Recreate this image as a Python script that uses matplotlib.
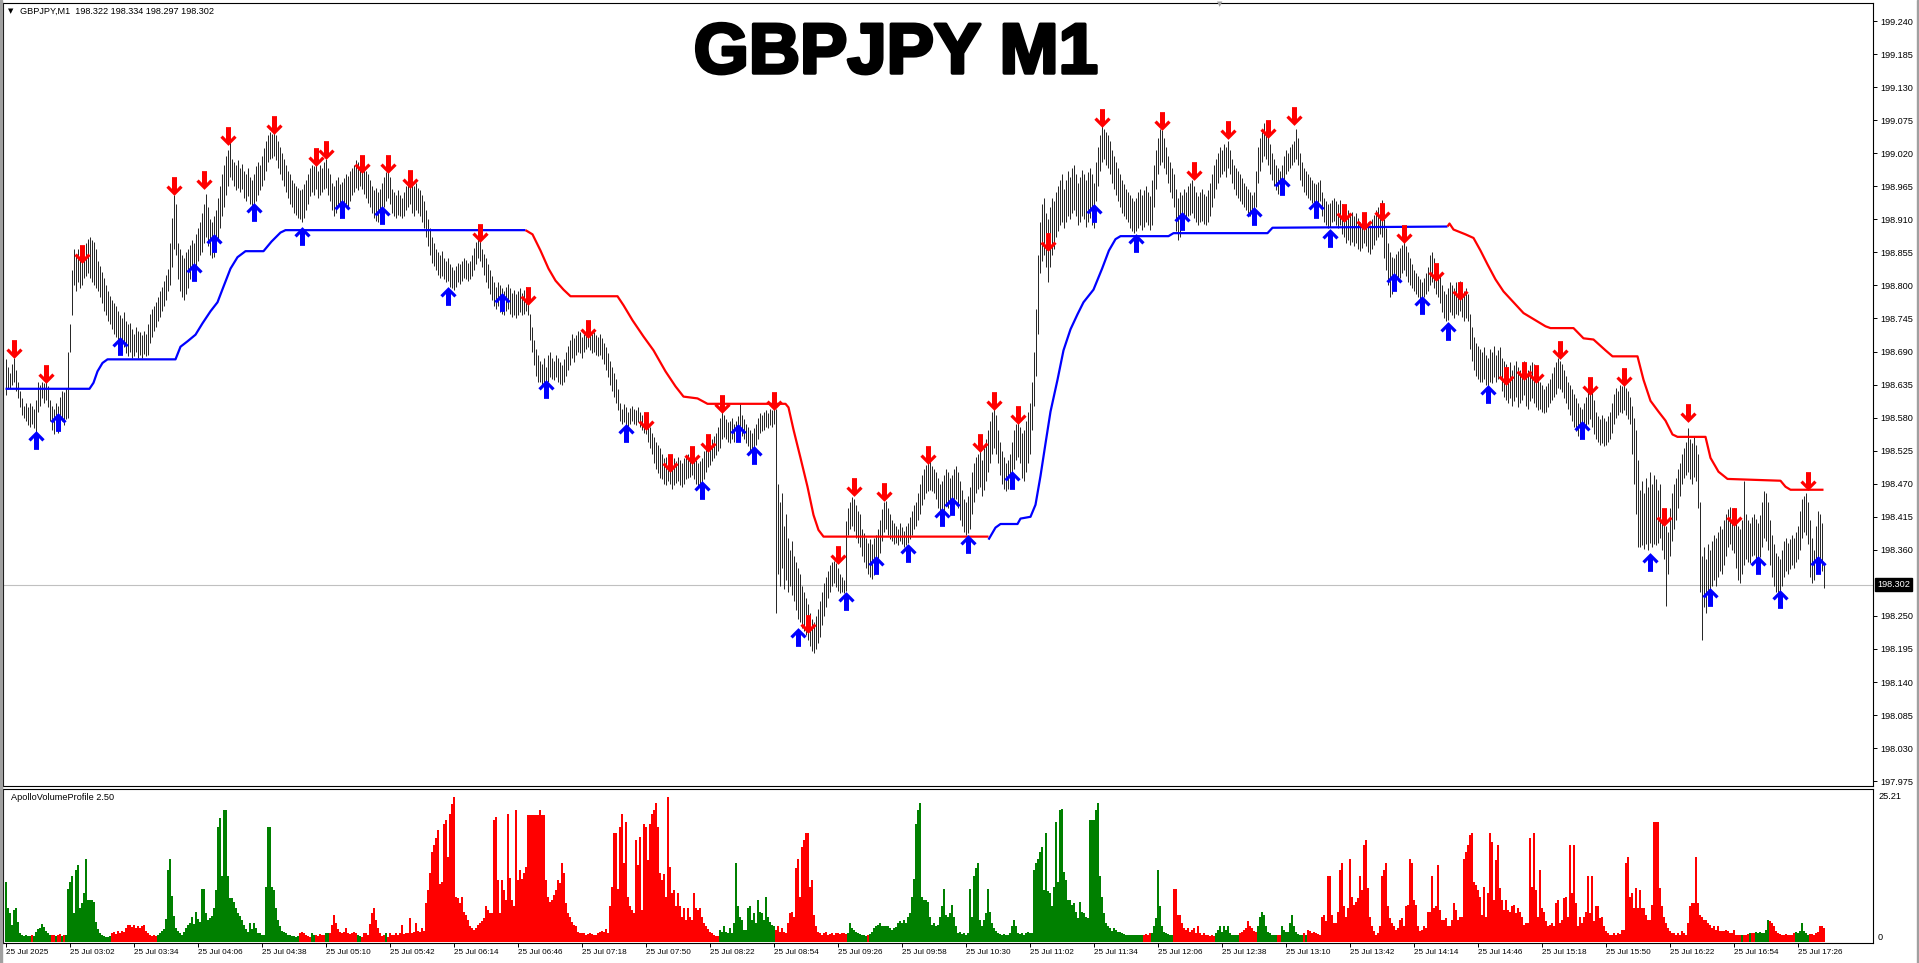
import numpy as np
import matplotlib
matplotlib.use('Agg')
import matplotlib.pyplot as plt
import matplotlib.patheffects as pe
from matplotlib.path import Path
from matplotlib.patches import Rectangle
from matplotlib import font_manager
from matplotlib.transforms import blended_transform_factory, ScaledTranslation

# ---- picture size (pixels) ----
W, H, DPI = 1919, 963, 100

# ---- price bars: high / low in thousandths above 198.000 (one per M1 bar) ----
HIGH = [
    678, 665, 655, 670, 680, 660, 640, 625, 612, 600,
    605, 598, 605, 600, 595, 610, 640, 635, 640, 638,
    645, 632, 610, 600, 595, 605, 600, 615, 625, 622,
    630, 690, 735, 825, 860, 850, 860, 845, 848, 858,
    870, 878, 880, 875, 872, 860, 840, 832, 822, 812,
    800, 790, 782, 775, 770, 765, 758, 750, 745, 755,
    740, 735, 738, 728, 720, 730, 725, 722, 718, 725,
    720, 735, 752, 760, 765, 772, 780, 790, 798, 808,
    818, 828, 870, 912, 950, 935, 870, 860, 850, 845,
    855, 860, 868, 875, 870, 885, 895, 905, 920, 935,
    952, 930, 910, 905, 915, 925, 945, 965, 985, 1000,
    1015, 1025, 1038, 1010, 1005, 1000, 1008, 995, 1002, 990,
    985, 995, 980, 975, 985, 998, 1005, 1000, 1015, 1028,
    1040, 1050, 1055, 1052, 1056, 1050, 1040, 1030, 1020, 1010,
    1000, 990, 985, 975, 970, 965, 962, 958, 960, 968,
    975, 985, 995, 1000, 998, 1005, 990, 1000, 995, 1005,
    1010, 995, 985, 970, 965, 975, 980, 968, 972, 978,
    985, 982, 990, 995, 1000, 1008, 1005, 1012, 1002, 995,
    990, 985, 975, 965, 958, 962, 955, 960, 970, 980,
    988, 992, 980, 960, 955, 950, 958, 950, 945, 955,
    965, 975, 982, 978, 965, 970, 962, 958, 950, 940,
    925, 910, 895, 880, 870, 860, 855, 850, 858, 845,
    840, 845, 835, 830, 825, 832, 838, 835, 840, 845,
    842, 838, 840, 850, 862, 872, 885, 880, 860, 852,
    845, 835, 825, 815, 805, 798, 805, 800, 795, 790,
    798, 802, 795, 788, 792, 785, 790, 795, 788, 792,
    798, 790, 752, 730, 710, 695, 685, 675, 670, 680,
    665, 685, 690, 680, 675, 685, 680, 672, 668, 678,
    690, 700, 710, 720, 712, 718, 725, 722, 715, 720,
    728, 730, 725, 720, 722, 718, 715, 720, 712, 705,
    698, 688, 675, 665, 655, 645, 628, 605, 595, 602,
    598, 590, 596, 600, 594, 592, 598, 590, 585, 580,
    582, 575, 565, 555, 548, 540, 535, 530, 520, 512,
    515, 518, 510, 505, 512, 508, 515, 510, 505, 512,
    518, 520, 522, 525, 518, 510, 505, 508, 512, 525,
    532, 538, 540, 545, 550, 555, 565, 580, 590, 585,
    578, 572, 575, 580, 570, 575, 582, 605, 585, 578,
    570, 565, 560, 555, 562, 570, 580, 588, 585, 590,
    592, 588, 595, 592, 598, 595, 470, 440, 455, 400,
    420, 380, 360, 375, 350, 340, 330, 320, 300, 290,
    280, 270, 255, 245, 240, 250, 262, 275, 290, 305,
    315, 325, 335, 340, 342, 338, 330, 320, 315, 310,
    408, 430, 440, 448, 445, 435, 425, 420, 395, 388,
    380, 372, 378, 370, 380, 385, 395, 410, 428, 440,
    442, 430, 420, 410, 405, 400, 395, 405, 398, 392,
    400, 405, 415, 425, 435, 440, 455, 470, 485, 495,
    502, 505, 508, 500, 495, 490, 480, 470, 475, 485,
    495, 490, 480, 485, 495, 500, 490, 475, 460, 445,
    440, 450, 465, 490, 505, 515, 520, 525, 510, 530,
    545, 560, 575, 590, 595, 585, 560, 540, 525, 515,
    505, 510, 520, 540, 560, 570, 575, 565, 555, 560,
    575, 590, 605, 640, 690, 760, 850, 905, 935, 945,
    920, 910, 930, 945, 940, 955, 965, 975, 985, 960,
    975, 990, 980, 995, 1000, 985, 970, 980, 992, 985,
    975, 988, 995, 985, 970, 1005, 1030, 1050, 1065, 1060,
    1055, 1050, 1040, 1025, 1015, 1005, 995, 985, 975, 968,
    960, 955, 950, 945, 940, 945, 955, 960, 950, 958,
    965, 955, 948, 975, 1000, 1025, 1045, 1060, 1058, 1045,
    1030, 1015, 1005, 995, 985, 960, 945, 955, 950, 960,
    955, 965, 970, 975, 965, 955, 948, 955, 960, 952,
    948, 958, 970, 985, 1000, 1010, 1020, 1030, 1025, 1035,
    1030, 1040, 1025, 1010, 1000, 995, 990, 985, 978, 970,
    965, 960, 955, 950, 955, 990, 1030, 1045, 1055, 1070,
    1060, 1050, 1035, 1020, 1010, 1000, 995, 990, 1000, 1015,
    1025, 1020, 1030, 1035, 1040, 1060, 1045, 1020, 1005, 995,
    990, 985, 980, 975, 970, 968, 972, 975, 955, 945,
    940, 935, 938, 942, 945, 940, 935, 942, 935, 930,
    920, 925, 918, 922, 915, 920, 912, 905, 915, 920,
    912, 905, 900, 910, 918, 925, 930, 938, 942, 910,
    895, 870, 855, 848, 845, 852, 858, 862, 868, 872,
    865, 855, 845, 835, 825, 820, 815, 810, 805, 812,
    820, 830, 850, 855, 845, 835, 825, 815, 800, 790,
    785, 795, 805, 800, 795, 805, 800, 808, 798, 790,
    795, 785, 752, 730, 715, 705, 700, 695, 690, 698,
    685, 680, 695, 690, 700, 685, 692, 698, 680, 675,
    670, 665, 672, 660, 668, 675, 665, 660, 670, 675,
    665, 660, 668, 672, 670, 662, 655, 640, 635, 628,
    632, 638, 645, 655, 665, 672, 680, 675, 670, 660,
    650, 640, 635, 628, 620, 612, 605, 598, 595, 605,
    615, 625, 635, 628, 610, 590, 582, 578, 585, 580,
    575, 582, 590, 605, 620, 630, 625, 635, 632, 638,
    630, 625, 615, 600, 580, 560, 510, 460, 475, 455,
    480, 465, 490, 470, 485, 478, 460, 470, 420, 405,
    400, 390, 430, 455, 470, 480, 495, 505, 520, 530,
    540, 562, 545, 538, 548, 535, 520, 440, 350, 365,
    345, 370, 360, 375, 385, 380, 390, 400, 395, 410,
    420, 428, 432, 425, 430, 415, 400, 395, 410, 475,
    420, 410, 405, 415, 420, 412, 405, 418, 440, 458,
    455, 440, 410, 385, 370, 355, 350, 345, 360, 375,
    380, 372, 378, 385, 380, 390, 400, 425, 445, 450,
    455, 440, 410, 380, 360, 400, 425, 420, 405, 334,
]
LOW = [
    618, 628, 630, 635, 640, 625, 612, 598, 585, 580,
    575, 568, 565, 570, 562, 556, 590, 600, 612, 605,
    610, 598, 575, 560, 552, 565, 555, 570, 575, 568,
    578, 580, 690, 750, 800, 790, 805, 795, 800, 812,
    815, 820, 812, 806, 800, 795, 790, 780, 770, 758,
    750, 740, 735, 728, 720, 715, 705, 700, 692, 698,
    688, 682, 690, 680, 682, 690, 680, 684, 680, 686,
    682, 685, 705, 715, 725, 730, 740, 748, 758, 765,
    775, 790, 800, 830, 860, 850, 810, 790, 780, 775,
    785, 795, 810, 815, 812, 830, 840, 850, 855, 870,
    880, 865, 850, 845, 848, 860, 875, 895, 915, 930,
    950, 965, 980, 975, 965, 958, 962, 955, 960, 945,
    940, 948, 935, 930, 928, 940, 950, 958, 965, 975,
    990, 1005, 1010, 1012, 1015, 1008, 995, 985, 975, 965,
    955, 945, 935, 930, 920, 918, 912, 910, 905, 912,
    925, 935, 948, 955, 950, 960, 945, 950, 955, 960,
    962, 950, 940, 925, 915, 920, 930, 912, 918, 925,
    935, 930, 940, 950, 955, 962, 958, 965, 960, 952,
    945, 938, 930, 920, 912, 908, 905, 908, 920, 930,
    940, 945, 935, 920, 915, 912, 918, 915, 912, 915,
    925, 930, 935, 920, 915, 925, 920, 915, 905, 895,
    880, 865, 850, 838, 832, 825, 818, 812, 815, 810,
    805, 808, 798, 795, 792, 798, 805, 802, 808, 812,
    810, 808, 810, 815, 825, 835, 845, 840, 830, 818,
    805, 795, 785, 775, 765, 760, 765, 755, 752, 750,
    758, 760, 752, 748, 750, 745, 750, 755, 750, 752,
    758, 750, 710, 690, 668, 650, 640, 640, 635, 638,
    630, 640, 648, 645, 642, 648, 640, 636, 635, 640,
    650, 660, 668, 680, 672, 685, 690, 688, 680, 690,
    695, 698, 692, 688, 690, 685, 682, 685, 678, 670,
    660, 648, 635, 625, 615, 605, 592, 575, 570, 572,
    568, 565, 570, 575, 570, 568, 572, 565, 560, 555,
    552, 540, 530, 520, 505, 495, 488, 480, 478, 470,
    468, 475, 470, 462, 468, 472, 475, 468, 465, 470,
    478, 480, 482, 485, 478, 470, 465, 462, 465, 478,
    490, 498, 502, 508, 512, 518, 525, 530, 545, 548,
    545, 540, 538, 545, 540, 542, 548, 555, 550, 545,
    538, 532, 525, 520, 522, 535, 545, 555, 558, 560,
    565, 562, 568, 565, 570, 255, 320, 300, 330, 295,
    310, 290, 300, 285, 275, 260, 245, 240, 230, 225,
    218, 210, 200, 192, 188, 195, 205, 215, 235, 250,
    265, 280, 290, 300, 305, 298, 292, 288, 290, 288,
    292, 385, 395, 400, 392, 380, 372, 365, 350, 340,
    330, 320, 315, 312, 318, 322, 335, 355, 375, 390,
    395, 385, 378, 375, 370, 372, 368, 375, 370, 365,
    368, 372, 378, 385, 395, 400, 410, 420, 435, 445,
    455, 458, 460, 458, 455, 445, 430, 420, 415, 425,
    435, 430, 425, 428, 440, 445, 430, 410, 400, 390,
    385, 388, 395, 420, 440, 455, 462, 465, 450, 460,
    475, 490, 505, 520, 530, 520, 505, 485, 470, 462,
    458, 462, 465, 475, 495, 510, 515, 505, 480, 475,
    490, 505, 520, 560, 600, 650, 720, 820, 840, 850,
    830, 805, 830, 850, 860, 880, 890, 900, 905, 895,
    905, 915, 910, 920, 925, 915, 900, 905, 915, 910,
    898, 905, 912, 900, 895, 940, 965, 990, 1005, 1010,
    1000, 995, 985, 970, 960, 950, 940, 930, 920, 915,
    910, 905, 895, 890, 888, 890, 895, 900, 892, 898,
    905, 900, 892, 900, 930, 960, 985, 1000, 1005, 995,
    985, 970, 955, 945, 930, 890, 875, 880, 895, 905,
    910, 915, 918, 920, 912, 905, 900, 905, 908, 902,
    900, 905, 915, 930, 945, 960, 970, 980, 985, 990,
    980, 995, 985, 970, 960, 950, 945, 940, 935, 930,
    925, 920, 915, 912, 910, 930, 970, 990, 1005, 1015,
    1010, 1000, 985, 975, 965, 958, 952, 955, 960, 975,
    985, 990, 995, 1000, 1005, 1010, 1000, 975, 965, 955,
    950, 945, 942, 938, 935, 932, 938, 940, 915, 905,
    900, 895, 898, 905, 908, 900, 895, 900, 885, 880,
    870, 875, 868, 872, 865, 870, 860, 858, 862, 870,
    865, 855, 852, 860, 868, 875, 880, 885, 880, 845,
    825, 800, 780, 785, 792, 800, 808, 812, 820, 825,
    815, 805, 800, 795, 790, 785, 780, 778, 775, 780,
    785, 790, 800, 805, 795, 785, 780, 770, 755, 745,
    740, 742, 755, 750, 745, 752, 750, 758, 748, 740,
    745, 740, 695, 675, 660, 650, 645, 640, 640, 645,
    635, 632, 640, 638, 648, 640, 645, 650, 625, 615,
    610, 605, 612, 600, 608, 615, 598, 605, 610, 618,
    600, 595, 608, 612, 605, 598, 592, 595, 590, 588,
    590, 598, 605, 610, 615, 620, 630, 628, 622, 612,
    605, 595, 585, 575, 565, 558, 550, 545, 548, 555,
    565, 570, 578, 565, 552, 545, 540, 535, 538, 532,
    535, 540, 545, 555, 570, 580, 585, 590, 588, 592,
    585, 578, 570, 520, 470, 420, 365, 365, 368, 362,
    370, 360, 372, 365, 370, 368, 372, 380, 360, 345,
    267, 320, 350, 375, 395, 410, 430, 450, 470, 480,
    485, 490, 478, 470, 482, 475, 430, 290, 210, 265,
    255, 280, 290, 300, 310, 300, 315, 325, 320, 335,
    350, 365, 370, 360, 355, 330, 310, 305, 320, 335,
    345, 340, 338, 350, 352, 345, 335, 348, 365, 380,
    375, 360, 335, 315, 300, 290, 285, 290, 300, 315,
    325, 320, 328, 335, 330, 340, 345, 360, 380, 390,
    385, 370, 315, 305, 310, 325, 345, 340, 325, 297,
]
LAST_PRICE = 198.302
HEADER_OHLC = ["198.322", "198.334", "198.297", "198.302"]

# ---- trailing stop line knots: (bar index, thousandths above 198.000) ----
TRAIL_BLUE_1 = [(0, 628), (42, 628), (44, 638), (46, 657), (48.5, 671), (51, 677), (85, 677),
                (87.5, 698), (91, 707), (95, 718), (98.5, 737), (102.5, 757), (106, 772),
                (109, 798), (112.5, 828), (116, 847), (120, 857), (129, 857), (133, 873),
                (137.5, 888), (140, 892), (260, 892)]
TRAIL_RED_1 = [(260, 892), (263.5, 885), (267.5, 858), (271.5, 828), (275, 808), (279, 793),
               (282.5, 782), (306, 782), (309, 767), (313.5, 742), (319, 715), (324, 692),
               (330, 657), (335, 632), (339, 615), (346, 612), (351, 603), (390, 603),
               (391.5, 597), (394, 560), (397.5, 513), (401, 465), (404, 418), (406.5, 393),
               (409, 382), (491.5, 382)]
TRAIL_BLUE_2 = [(491.5, 377), (495, 397), (497.5, 403), (506, 403), (507.5, 412), (512.5, 415),
                (515, 435), (517.5, 483), (520, 537), (522.5, 590), (526, 643), (529, 692),
                (532.5, 727), (536, 752), (539, 772), (544, 793), (548.3, 828), (551.7, 858),
                (555, 877), (557.5, 882), (581.5, 882), (584, 887), (631, 887), (633.5, 896),
                (721, 898)]
TRAIL_RED_2 = [(721, 898), (722, 903), (724, 893), (730, 885), (734, 879), (737.5, 858),
               (741, 835), (745, 810), (749, 790), (754, 772), (759, 754), (765, 742),
               (770, 732), (772.5, 729), (784, 729), (789, 712), (794, 710), (800, 692),
               (803.5, 682), (816, 682), (819, 643), (822.5, 608), (826.5, 590), (830, 575),
               (833.5, 552), (836, 548), (850, 548), (852.5, 513), (856.5, 490), (861, 478),
               (887.5, 475), (890, 465), (892.5, 460), (909, 460)]

# ---- signal arrows (bar index, centre level in thousandths above 198.000) ----
DOWN_IDX = [4, 20, 38, 84, 99, 111, 134, 155, 160, 178, 191, 202, 237, 261, 291, 320, 332, 343,
            351, 358, 384, 401, 416, 424, 439, 461, 487, 494, 506, 521, 548, 578, 594, 611, 631,
            644, 669, 679, 688, 699, 715, 727, 750, 759, 765, 777, 792, 809, 829, 841, 864, 901]
DOWN_VAL = [695, 653, 852, 965, 975, 1048, 1067, 1013, 1025, 1002, 1002, 977, 888, 782, 727, 575,
            505, 517, 538, 602, 608, 237, 352, 465, 457, 518, 537, 608, 585, 873, 1078, 1073, 990,
            1058, 1060, 1082, 921, 908, 923, 885, 823, 790, 650, 657, 653, 692, 632, 647, 415,
            588, 415, 475]
UP_IDX = [15, 26, 57, 94, 104, 124, 148, 168, 188, 221, 248, 270, 310, 348, 366, 374, 396, 420,
          435, 451, 468, 473, 481, 503, 544, 565, 588, 624, 638, 655, 662, 694, 708, 721, 741,
          788, 822, 852, 876, 887, 906]
UP_VAL = [543, 573, 700, 822, 870, 923, 882, 927, 917, 783, 772, 627, 555, 460, 555, 518, 215,
          275, 335, 355, 415, 433, 370, 477, 921, 870, 908, 915, 965, 927, 879, 805, 768, 725,
          620, 560, 340, 282, 335, 278, 335]

# ---- volume histogram ----
VOLUME = [
    10.5, 6, 5, 3, 5.5, 6, 3.5, 1.5,
    1.2, 1.0, 1.3, 1.0, 1.1, 1.2, 1.0, 1.8, 2.2, 2.5, 3.2, 2.6, 2.0, 1.5, 1.2,
    1.2, 1.3, 1.0, 1.2, 1.4, 1.1, 1.3, 1.2,
    9.3, 10.5, 11.4, 5.0, 12.5, 13.4, 6.0, 6.7, 8.5, 14.5, 7.3, 7.3, 7.3, 7.0, 3.5,
    2.2, 1.5, 1.2, 1.0, 0.9, 0.8, 1.0,
    1.5, 1.8, 1.4, 1.9, 1.6, 2.0, 1.7, 2.4, 2.9, 3.0, 2.6, 2.9, 2.5, 2.7, 2.4, 2.8, 3.0, 2.0,
    1.6, 1.2, 1.0, 1.2, 1.0,
    1.2, 1.5, 2.0, 2.3, 4.0, 12.5, 14.5, 8.0, 4.5, 2.5, 2.0, 1.5, 1.2, 1.8, 2.5,
    3.0, 3.3, 4.4, 3.2, 5.3, 4.0, 3.5, 9.3, 9.3, 5.0, 3.8, 4.2,
    4.5, 6.0, 9.0, 20.0, 21.5, 11.4, 23.0, 23.0, 11.4, 7.6, 7.6, 7.0, 6.0, 5.0,
    4.5, 3.9, 3.0, 2.2, 1.8, 3.3, 2.2, 3.3, 2.5, 1.6, 1.5, 1.3, 1.2,
    9.6, 20.0, 20.0, 9.6, 9.0, 5.9, 3.9, 2.7, 2.0,
    1.8, 1.5, 1.3, 1.2, 1.0, 1.0, 0.9, 1.0,
    1.5, 1.8, 1.5, 1.2, 1.0, 0.9, 1.5, 1.3, 1.2, 1.0, 1.4, 1.3, 1.2, 1.6, 1.5,
    1.5, 3.0, 4.7, 3.3, 2.2, 1.8, 1.6, 1.7, 2.5, 1.5, 1.4, 1.6, 1.8, 1.5, 1.2,
    1.0, 0.9, 1.5, 1.6, 1.3, 3.2, 5.0, 5.9, 3.9, 2.4, 1.5, 1.0, 1.2, 1.5, 0.8,
    1.5, 1.2, 1.3, 1.6, 1.2, 1.5, 2.9, 1.4, 1.6, 1.5, 4.1, 1.6, 1.8, 3.3, 2.0, 1.8, 2.4, 2.0,
    6.8, 9.0, 12.0, 15.7, 16.8, 18.0, 19.5, 10.0, 10.5, 20.6, 21.2, 14.8, 22.3, 24.0, 25.2,
    7.9, 7.6,
    6.8, 7.9, 5.3, 4.7, 3.9, 2.7, 2.4, 2.1, 2.4, 3.0, 3.3, 3.6, 4.2, 6.2, 5.5, 5.0,
    5.0, 21.2, 21.8, 10.8, 5.0, 10.8, 9.1, 7.3, 22.3, 11.1, 7.3, 6.2, 23.0,
    10.8, 12.5, 11.0, 12.0, 13.0, 22.0, 22.0, 22.0, 22.0, 22.0, 22.0, 23.0, 22.0, 22.0,
    10.8, 7.9, 7.0, 7.3, 8.2, 9.1, 10.8, 10.2, 13.7, 12.0, 6.8, 5.0, 4.4, 3.5, 3.0, 2.7,
    1.8, 1.6,
    1.6, 1.5, 1.3, 1.4, 1.5, 1.4, 1.3, 1.2, 1.6, 1.8, 2.0, 1.8, 2.2, 1.6,
    6.2, 9.6, 18.9, 18.9, 9.3, 20.0, 22.3, 13.7, 20.9, 7.9, 6.2, 5.6, 5.0,
    17.7, 13.4, 18.3, 5.6, 20.6, 20.0, 14.3, 20.6, 22.3, 22.9, 24.1, 20.0, 12.0,
    10.8, 11.9, 7.9, 25.2, 13.1, 8.5, 9.1, 6.2, 8.5, 6.2, 4.4, 5.9, 3.9, 5.9, 4.4, 3.9,
    8.5, 6.0, 5.5, 5.9,
    4.4, 3.3, 2.7, 2.2, 1.8, 1.6, 1.3, 1.0, 1.0,
    2.1, 1.8, 2.7, 1.7, 1.6, 2.4, 1.6, 3.3, 13.7, 6.2, 4.4, 3.9, 2.1, 2.1, 5.9, 6.2, 3.9,
    5.0, 3.3, 7.3, 5.3, 5.0, 3.9, 7.9, 4.4, 3.5, 3.0, 2.8,
    2.1, 2.7, 1.8, 2.4, 1.8, 1.6, 3.3, 5.0, 5.3, 4.4, 12.8, 14.5, 7.9, 16.6, 17.7, 18.9,
    18.9, 9.6, 10.8, 4.7, 2.7, 1.8, 1.6, 1.3, 1.6, 1.8, 1.3, 1.4, 1.6, 1.3, 1.6, 1.5, 1.4,
    1.6, 1.5, 1.4,
    1.6, 3.3, 2.4, 2.1, 1.8, 1.6, 1.4, 1.3, 1.3, 1.1, 1.2, 1.4,
    1.8, 2.4, 2.7, 3.0, 3.3, 2.7, 2.7, 2.7, 2.7, 2.4, 2.1, 2.4, 2.6, 3.3, 3.6, 3.3, 3.9,
    3.3, 4.4, 5.0, 7.9, 11.0, 20.6,
    22.9, 24.1, 7.9, 7.3, 7.3, 7.0, 4.4, 3.0, 3.3,
    2.7, 3.0, 4.4, 6.2, 9.3, 4.7, 4.4, 5.0, 6.5, 4.4, 2.7, 1.6, 1.7, 1.4, 1.6, 1.3, 1.5,
    9.3, 4.4, 11.4, 12.8, 13.7, 3.9, 2.7, 3.9, 5.0, 9.3, 5.3, 3.3, 2.4, 2.0,
    1.6, 1.4, 1.2, 1.4, 1.3, 1.2, 1.5, 2.7, 3.9, 2.7, 1.6, 1.4, 1.5, 1.3, 1.6, 1.8, 1.5, 1.6,
    12.5, 13.7, 14.5, 15.7, 16.6, 9.0, 18.9, 8.8, 8.5, 6.2, 9.6, 20.9, 10.5, 22.9, 23.2,
    12.2, 10.8, 7.3, 7.3, 6.5,
    6.8, 5.3, 4.2, 7.0, 5.3, 5.0, 4.4, 4.2, 21.2, 21.2, 21.2, 22.9, 24.1, 11.4, 7.9, 5.0,
    3.3, 2.7, 2.4, 2.0,
    2.4, 2.1, 1.8, 1.8, 1.6, 1.4, 1.3, 1.3, 1.2, 1.3, 1.2, 1.3, 1.2, 1.3, 1.2,
    1.3, 1.4, 1.3, 1.5,
    1.6, 2.7, 4.2, 12.5, 6.2, 2.7, 1.8, 1.6, 1.4, 1.3, 1.3,
    9.3, 9.3, 4.7, 4.7, 3.3, 2.4, 2.1, 2.4, 1.8, 2.1, 2.4, 1.6, 2.7, 1.6, 1.3, 1.6, 1.3,
    1.3, 1.1, 1.2, 1.1,
    1.6, 2.1, 2.7, 1.8, 2.7, 2.1, 2.7, 1.6, 1.3, 1.2, 1.3, 1.2,
    1.6, 1.8, 2.1, 2.4, 3.6, 2.7, 2.4, 2.0, 1.8,
    2.7, 4.4, 5.3, 4.7, 2.7, 1.8, 1.6, 1.3, 1.3, 1.2,
    1.3, 1.3,
    2.7, 2.1, 1.8, 1.8, 3.3, 4.7, 2.7, 1.8, 1.4, 1.3,
    1.3, 1.5, 1.3, 2.1, 1.85, 1.56, 1.7, 1.56, 1.4, 1.27,
    4.4, 4.7, 3.6, 11.4, 11.4, 4.7, 3.3, 3.3, 5.3, 12.5,
    13.7, 6.2, 4.4, 5.9, 14.5, 7.9, 6.5, 7.0, 7.6, 11.4,
    9.0, 16.8, 17.7, 9.35, 4.4, 2.7, 1.85, 1.27, 1.56, 2.7,
    11.4, 12.5, 13.7, 6.2, 4.15, 3.3, 2.7, 2.1, 2.4, 3.9,
    4.15, 2.7, 6.2, 6.5, 14.5, 13.7, 7.3, 6.5, 2.7, 1.85,
    2.1, 2.7, 2.4, 5.3, 5.3, 11.4, 5.9, 6.2, 13.4, 5.6,
    3.9, 3.9, 4.15, 2.7, 2.7, 3.9, 6.75, 5.6, 3.9, 4.4,
    4.4, 14.5, 15.7, 16.85, 18.6, 18.9, 10.5, 9.9, 9.1, 7.9,
    4.7, 9.6, 4.4, 8.5, 18.9, 17.4, 7.3, 14.25, 16.85, 9.35,
    7.3, 5.6, 7.3, 5.6, 5.3, 6.2, 6.5, 5.0, 5.9, 5.3,
    4.4, 3.0, 3.3, 3.3, 18.0, 9.6, 18.9, 9.1, 4.4, 12.5,
    5.9, 5.3, 3.6, 2.7, 3.0, 3.3, 2.7, 6.75, 7.3, 3.3,
    3.9, 7.6, 7.9, 4.4, 16.85, 8.5, 16.85, 6.75, 2.7, 4.4,
    3.3, 4.4, 5.3, 11.4, 5.0, 11.4, 3.6, 6.2, 6.2, 4.15,
    4.4, 2.7, 1.85, 1.56, 1.27, 1.27, 1.56, 1.27, 1.56, 1.4,
    2.1, 2.1, 13.7, 14.8, 7.9, 8.5, 5.9, 9.35, 5.9, 9.06,
    5.9, 5.9, 4.7, 3.9, 3.9, 6.5, 20.9, 20.9, 20.9, 9.35,
    6.2, 4.4, 3.3, 2.4, 1.85, 1.56, 1.56, 1.27, 1.56, 1.27,
    1.85, 1.56, 1.27, 3.3, 6.2, 6.75, 6.75, 14.8, 6.75, 4.7,
    4.4, 3.9, 3.9, 3.3, 3.0, 2.4, 2.7, 2.1, 2.7, 1.85,
    1.85, 1.85, 2.1, 1.85, 1.56, 1.56, 2.1, 1.27, 1.27, 1.27,
    1.27, 1.27, 1.27, 1.4, 1.56, 1.56, 1.56, 1.7, 1.56, 1.7,
    1.56, 1.56, 2.1, 3.9, 3.6, 3.3, 2.7, 1.85, 1.56, 1.4,
    1.27, 1.27, 1.4, 1.27, 1.27, 1.27, 1.56, 1.7, 1.56, 1.85,
    3.3, 1.85, 1.56, 1.27, 1.4, 1.35, 1.27, 1.56, 1.7, 2.7, 2.7, 2.5,
]
VOLUME_MAX_LABEL = "25.21"
# colour changes of the histogram: (first bar index, colour)
VOL_COLOR_RUNS = [(0, 'g'), (13, 'r'), (14, 'g'), (23, 'r'), (25, 'g'), (26, 'r'), (28, 'g'),
                  (29, 'r'), (30, 'g'), (53, 'r'), (76, 'g'), (147, 'r'), (153, 'g'), (155, 'r'),
                  (160, 'g'), (162, 'r'), (176, 'g'), (178, 'r'), (190, 'g'), (191, 'r'),
                  (357, 'g'), (385, 'r'), (421, 'g'), (431, 'r'), (432, 'g'), (569, 'r'),
                  (573, 'g'), (584, 'r'), (605, 'g'), (617, 'r'), (626, 'g'), (636, 'r'),
                  (638, 'g'), (649, 'r'), (650, 'g'), (651, 'r'), (868, 'g'), (869, 'r'),
                  (872, 'g'), (873, 'r'), (875, 'g'), (882, 'r'), (895, 'g'), (902, 'r')]

# ---- axis labels ----
PRICE_TICKS = [199.240, 199.185, 199.130, 199.075, 199.020, 198.965, 198.910, 198.855, 198.800,
               198.745, 198.690, 198.635, 198.580, 198.525, 198.470, 198.415, 198.360, 198.250,
               198.195, 198.140, 198.085, 198.030, 197.975]
TIME_TICKS = list(range(0, 897, 32))
TIME_LABELS = ["25 Jul 2025", "25 Jul 03:02", "25 Jul 03:34", "25 Jul 04:06", "25 Jul 04:38",
               "25 Jul 05:10", "25 Jul 05:42", "25 Jul 06:14", "25 Jul 06:46", "25 Jul 07:18",
               "25 Jul 07:50", "25 Jul 08:22", "25 Jul 08:54", "25 Jul 09:26", "25 Jul 09:58",
               "25 Jul 10:30", "25 Jul 11:02", "25 Jul 11:34", "25 Jul 12:06", "25 Jul 12:38",
               "25 Jul 13:10", "25 Jul 13:42", "25 Jul 14:14", "25 Jul 14:46", "25 Jul 15:18",
               "25 Jul 15:50", "25 Jul 16:22", "25 Jul 16:54", "25 Jul 17:26"]

COLORS = {'g': '#008000', 'r': '#ff0000', 'blue': '#0000ff', 'red': '#ff0000'}

# ---- fonts ----
_names = {f.name for f in font_manager.fontManager.ttflist}
plt.rcParams['font.family'] = ['Liberation Sans', 'DejaVu Sans']
if 'Liberation Sans Narrow' in _names:
    TIME_FONT, TIME_SIZE = 'Liberation Sans Narrow', 6.6
else:
    TIME_FONT, TIME_SIZE = 'Liberation Sans', 5.9
SMALL = 6.6


def lv(vals):
    return 198.0 + np.asarray(vals, dtype=float) / 1000.0


fig = plt.figure(figsize=(W / DPI, H / DPI), dpi=DPI)
fig.patch.set_facecolor('white')


def px_axes(x0, y0, x1, y1):
    return fig.add_axes([x0 / W, 1 - y1 / H, (x1 - x0) / W, (y1 - y0) / H])


ax = px_axes(3, 3, 1873, 786)
axv = px_axes(3, 789, 1873, 943)
# 2 px per bar; the quarter offset puts every bar on a pixel centre
XMIN, XMAX = -1.25, 933.75

# window edges
fig.patches.append(Rectangle((0, 0), 2 / W, 1, transform=fig.transFigure, color='#a0a0a0'))
fig.patches.append(Rectangle((1 - 2 / W, 0), 2 / W, 1, transform=fig.transFigure, color='#a0a0a0'))

# ===== price panel =====
n = min(len(HIGH), len(LOW))
idx = np.arange(n)
ax.axhline(LAST_PRICE, color='#c0c0c0', lw=0.8, zorder=0.5)
ax.vlines(idx, lv(LOW[:n]), lv(HIGH[:n]), colors='black', linewidth=0.6, antialiased=True,
          snap=True, zorder=2)

for knots, col in [(TRAIL_BLUE_1, 'blue'), (TRAIL_RED_1, 'red'), (TRAIL_BLUE_2, 'blue'), (TRAIL_RED_2, 'red')]:
    kx = [k[0] for k in knots]
    ky = lv([k[1] for k in knots])
    ax.plot(kx, ky, color=COLORS[col], lw=1.6, solid_capstyle='butt', solid_joinstyle='round', zorder=3)

down_verts = [(-2.4, 9), (2.4, 9), (2.4, -2.3), (5.6, 1.0), (7.8, -1.2), (0, -9),
              (-7.8, -1.2), (-5.6, 1.0), (-2.4, -2.3), (-2.4, 9)]
down_path = Path(down_verts, closed=True)
up_path = Path([(x, -y) for x, y in down_verts], closed=True)
ax.plot(DOWN_IDX, lv(DOWN_VAL), ls='none', marker=down_path, ms=13.5, mfc=COLORS['red'],
        mew=0, zorder=4)
ax.plot(UP_IDX, lv(UP_VAL), ls='none', marker=up_path, ms=13.5, mfc=COLORS['blue'],
        mew=0, zorder=4)

ax.set_xlim(XMIN, XMAX)
ax.set_ylim(197.967, 199.270)
ax.yaxis.tick_right()
ax.set_yticks(PRICE_TICKS)
ax.set_yticklabels([f"{t:.3f}" for t in PRICE_TICKS])
ax.tick_params(axis='y', direction='out', length=3, width=0.7, pad=2, labelsize=SMALL)
ax.tick_params(axis='x', bottom=False, labelbottom=False)
for s in ax.spines.values():
    s.set_linewidth(0.8)
    s.set_color('black')

# current price box on the scale
tr = blended_transform_factory(ax.transAxes, ax.transData) + ScaledTranslation(4 / DPI, 0, fig.dpi_scale_trans)
ax.text(1.0, LAST_PRICE, f"{LAST_PRICE:.3f}", transform=tr, ha='left', va='center',
        fontsize=SMALL, color='white', clip_on=False,
        bbox=dict(boxstyle='square,pad=0.2', fc='black', ec='black'))

# header and title
fig.text(11 / W, 1 - 11 / H, '\u25bc', fontsize=5, family='DejaVu Sans', ha='center', va='center')
fig.text(20 / W, 1 - 11 / H, "GBPJPY,M1  " + " ".join(HEADER_OHLC), fontsize=SMALL,
         ha='left', va='center')
fig.text(1220 / W, 1 - 4 / H, '\u25bc', fontsize=5, family='DejaVu Sans', color='#a0a0a0',
         ha='center', va='center')
fig.text(896 / W, 1 - 73 / H, "GBPJPY M1", fontsize=51, fontweight='bold', ha='center',
         va='baseline', color='black',
         path_effects=[pe.withStroke(linewidth=2.5, foreground='black')])

# ===== volume panel =====
vol = np.asarray(VOLUME, dtype=float)
vidx = np.arange(len(vol))
run_starts = np.array([r[0] for r in VOL_COLOR_RUNS])
run_cols = [COLORS[r[1]] for r in VOL_COLOR_RUNS]
vcol = [run_cols[np.searchsorted(run_starts, i, side='right') - 1] for i in vidx]
axv.bar(vidx, vol, width=1.0, color=vcol, linewidth=0, antialiased=False, align='center')
axv.set_xlim(XMIN, XMAX)
axv.set_ylim(-0.17, 26.6)
axv.set_yticks([])
axv.set_xticks(TIME_TICKS)
axv.set_xticklabels(TIME_LABELS[:len(TIME_TICKS)], ha='left', fontsize=TIME_SIZE, family=TIME_FONT)
axv.tick_params(axis='x', direction='out', length=3, width=0.7, pad=1.5)
for s in axv.spines.values():
    s.set_linewidth(0.8)
    s.set_color('black')

axv.text(8 / 1870, 1 - 9 / 154, "ApolloVolumeProfile 2.50", transform=axv.transAxes,
         fontsize=SMALL, ha='left', va='center')
fig.text(1878 / W, 1 - 796 / H, VOLUME_MAX_LABEL, fontsize=SMALL, ha='left', va='center')
fig.text(1878 / W, 1 - 937 / H, "0", fontsize=SMALL, ha='left', va='center')

fig.savefig('out.png', dpi=DPI, facecolor='white')
